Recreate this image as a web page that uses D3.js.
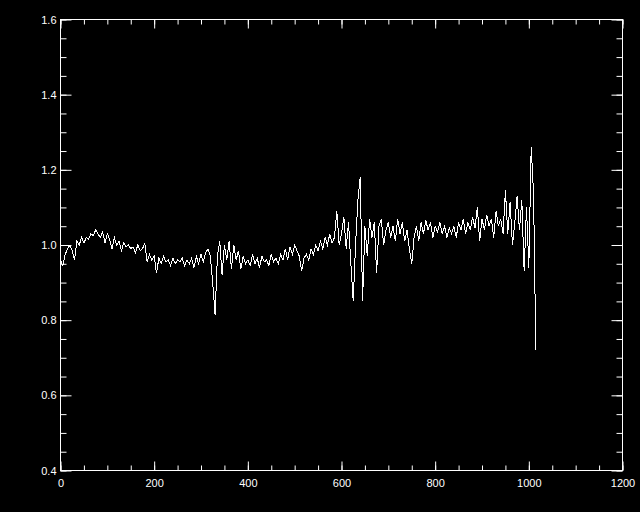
<!DOCTYPE html>
<html>
<head>
<meta charset="utf-8">
<script src="https://cdn.jsdelivr.net/npm/d3@7"></script>
<style>
  body { margin: 0; background: #000; }
  svg { display: block; }
</style>
</head>
<body>
<div id="chart"></div>
<script>

// x values step 5 from 0 to 1015
var xStart = 0, xStep = 5;
var ratio = [
  0.96, 0.945, 0.975, 0.99, 1.00, 0.985, 0.96, 1.01, 1.00, 1.02,
  1.005, 1.02, 1.015, 1.03, 1.025, 1.04, 1.03, 1.02, 1.035, 1.005,
  1.03, 1.015, 0.99, 1.02, 1.00, 1.01, 0.985, 1.005, 0.995, 1.00,
  0.99, 0.995, 0.98, 1.00, 0.985, 0.99, 1.005, 0.955, 0.975, 0.96,
  0.97, 0.925, 0.965, 0.95, 0.97, 0.955, 0.96, 0.945, 0.965, 0.95,
  0.96, 0.955, 0.965, 0.945, 0.96, 0.95, 0.965, 0.94, 0.97, 0.95,
  0.975, 0.955, 0.98, 0.99, 0.97, 0.90, 0.815, 0.97, 1.01, 0.92,
  1.00, 0.96, 1.01, 0.935, 1.00, 0.96, 0.985, 0.935, 0.97, 0.95,
  0.96, 0.945, 0.975, 0.95, 0.965, 0.94, 0.97, 0.955, 0.96, 0.945,
  0.975, 0.955, 0.965, 0.95, 0.975, 0.96, 0.99, 0.96, 0.995, 0.975,
  1.00, 0.985, 0.97, 0.93, 0.965, 0.975, 0.96, 0.99, 0.975, 1.00,
  0.985, 1.01, 0.99, 1.02, 1.00, 1.03, 1.005, 1.02, 1.09, 1.00,
  1.03, 1.075, 0.99, 1.06, 0.95, 0.85, 1.00, 1.12, 1.18, 0.85,
  1.05, 0.97, 1.07, 1.02, 1.06, 0.925, 1.05, 1.07, 1.00, 1.04,
  1.06, 1.02, 1.05, 1.01, 1.07, 1.03, 1.06, 1.01, 1.04, 0.99,
  0.95, 1.02, 1.05, 1.01, 1.06, 1.03, 1.065, 1.04, 1.06, 1.02,
  1.05, 1.035, 1.06, 1.03, 1.05, 1.02, 1.045, 1.03, 1.05, 1.02,
  1.06, 1.04, 1.07, 1.03, 1.06, 1.04, 1.075, 1.045, 1.10, 1.01,
  1.07, 1.04, 1.08, 1.05, 1.07, 1.02, 1.09, 1.05, 1.07, 1.03,
  1.145, 1.03, 1.115, 1.00, 1.06, 1.13, 1.04, 1.12, 0.93, 1.10,
  0.94, 1.26, 1.14, 0.72
];

var xTicks = [0, 200, 400, 600, 800, 1000, 1200];
var yTicks = [0.4, 0.6, 0.8, 1.0, 1.2, 1.4, 1.6];
var xMinor = d3.range(0, 1201, 50);
var yMinor = d3.range(0, 25).map(function (i) { return +(0.4 + i * 0.05).toFixed(2) });

var data = ratio.map(function (v, i) {
    return { x: xStart + i * xStep, y: v };
});

var width = 640, height = 512;
var plotL = 60.5, plotR = 622.5, plotT = 19.5, plotB = 470.5;

var svg = d3.select("#chart")
    .append("svg")
    .attr("width", width)
    .attr("height", height)
    .style("background", "#000");

var x = d3.scaleLinear().domain([0, 1200]).range([plotL, plotR]);
var y = d3.scaleLinear().domain([0.4, 1.6]).range([plotB, plotT]);

function styleAxis(g) {
    g.select(".domain").remove();
    g.selectAll("line").attr("stroke", "#fff").attr("stroke-width", 1);
    g.selectAll("text")
        .attr("fill", "#fff")
        .style("font-family", "'Liberation Sans', Arial, sans-serif")
        .style("font-size", "11px");
}

// minor ticks, all four sides
svg.append("g").attr("transform", "translate(0," + plotB + ")")
    .call(d3.axisBottom(x).tickValues(xMinor).tickSize(-5).tickFormat(""))
    .call(styleAxis);
svg.append("g").attr("transform", "translate(0," + plotT + ")")
    .call(d3.axisTop(x).tickValues(xMinor).tickSize(-5).tickFormat(""))
    .call(styleAxis);
svg.append("g").attr("transform", "translate(" + plotL + ",0)")
    .call(d3.axisLeft(y).tickValues(yMinor).tickSize(-6).tickFormat(""))
    .call(styleAxis);
svg.append("g").attr("transform", "translate(" + plotR + ",0)")
    .call(d3.axisRight(y).tickValues(yMinor).tickSize(-6).tickFormat(""))
    .call(styleAxis);

// major ticks
svg.append("g").attr("transform", "translate(0," + plotB + ")")
    .call(d3.axisBottom(x).tickValues(xTicks).tickSize(-9).tickPadding(9).tickFormat(d3.format("d")))
    .call(styleAxis);
svg.append("g").attr("transform", "translate(0," + plotT + ")")
    .call(d3.axisTop(x).tickValues(xTicks).tickSize(-9).tickFormat(""))
    .call(styleAxis);
svg.append("g").attr("transform", "translate(" + plotL + ",0)")
    .call(d3.axisLeft(y).tickValues(yTicks).tickSize(-11).tickPadding(4).tickFormat(d3.format(".1f")))
    .call(styleAxis);
svg.append("g").attr("transform", "translate(" + plotR + ",0)")
    .call(d3.axisRight(y).tickValues(yTicks).tickSize(-11).tickFormat(""))
    .call(styleAxis);

// box
svg.append("rect")
    .attr("x", plotL).attr("y", plotT)
    .attr("width", plotR - plotL).attr("height", plotB - plotT)
    .attr("fill", "none")
    .attr("stroke", "#fff")
    .attr("stroke-width", 1);

// the series (aliased, like the original plot device)
svg.append("path")
    .datum(data)
    .attr("fill", "none")
    .attr("stroke", "#fff")
    .attr("stroke-width", 1)
    .attr("shape-rendering", "crispEdges")
    .attr("d", d3.line()
        .x(function (d) { return x(d.x) })
        .y(function (d) { return y(d.y) }));

</script>
</body>
</html>
